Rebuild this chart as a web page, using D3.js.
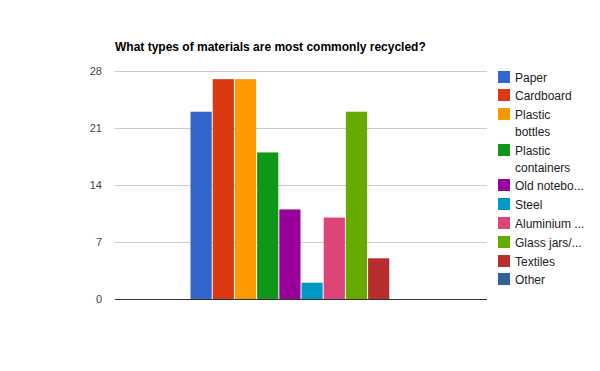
<!DOCTYPE html>
<html>
<head>
<meta charset="utf-8">
<script src="https://cdn.jsdelivr.net/npm/d3@7"></script>
<style>
  body { margin: 0; background: #fff; }
  text { font-family: "Liberation Sans", Arial, sans-serif; }
</style>
</head>
<body>
<div id="chart"></div>
<script>
// Data
var series = ["Paper", "Cardboard", "Plastic bottles", "Plastic containers", "Old notebo...",
  "Steel", "Aluminium ...", "Glass jars/...", "Textiles", "Other"];
var legendLines = [["Paper"], ["Cardboard"], ["Plastic", "bottles"], ["Plastic", "containers"],
  ["Old notebo..."], ["Steel"], ["Aluminium ..."], ["Glass jars/..."], ["Textiles"], ["Other"]];
var values = [23, 27, 27, 18, 11, 2, 10, 23, 5, 0];
var colors = ["#3366cc", "#dc3912", "#ff9900", "#109618", "#990099",
  "#0099c6", "#dd4477", "#66aa00", "#b82e2e", "#316395"];
var yTicks = [0, 7, 14, 21, 28];

var svgWidth = 600, svgHeight = 371;
var margin = { top: 71, right: 113, bottom: 72, left: 115 };
var chartWidth = svgWidth - margin.left - margin.right;
var chartHeight = svgHeight - margin.top - margin.bottom;

var svg = d3.select("#chart").append("svg")
  .attr("width", svgWidth)
  .attr("height", svgHeight);

svg.append("text")
  .attr("x", 115)
  .attr("y", 51)
  .style("font-size", "12px")
  .style("font-weight", "bold")
  .attr("fill", "#000")
  .text("What types of materials are most commonly recycled?");

var chart = svg.append("g")
  .attr("transform", "translate(" + margin.left + "," + margin.top + ")");

var y = d3.scaleLinear().domain([0, 28]).range([chartHeight, 0]);

// one category group centred in the plot
var x0 = d3.scaleBand().domain(["all"]).range([0, chartWidth]).paddingInner(0).paddingOuter(0.338);
var x1 = d3.scaleBand().domain(series).range([0, x0.bandwidth()]).paddingInner(0.045).paddingOuter(0.0225);

// gridlines
chart.selectAll(".grid")
  .data(yTicks.filter(function(d) { return d > 0; }))
  .enter().append("line")
  .attr("x1", 0).attr("x2", chartWidth)
  .attr("y1", function(d) { return Math.round(y(d)) + 0.5; })
  .attr("y2", function(d) { return Math.round(y(d)) + 0.5; })
  .attr("stroke", "#cccccc");

// y axis labels
var yAxis = chart.append("g")
  .call(d3.axisLeft(y).tickValues(yTicks).tickSize(0).tickPadding(13));
yAxis.select(".domain").remove();
yAxis.selectAll("text")
  .style("font-size", "11px")
  .style("font-family", "'Liberation Sans', Arial, sans-serif")
  .attr("fill", "#444");

// bars
chart.append("g")
  .attr("transform", "translate(" + x0("all") + ",0)")
  .selectAll("rect")
  .data(values)
  .enter().append("rect")
  .attr("x", function(d, i) { return x1(series[i]); })
  .attr("y", function(d) { return y(d); })
  .attr("width", x1.bandwidth())
  .attr("height", function(d) { return chartHeight - y(d); })
  .attr("fill", function(d, i) { return colors[i]; });

// baseline
chart.append("line")
  .attr("x1", 0).attr("x2", chartWidth)
  .attr("y1", chartHeight + 0.5).attr("y2", chartHeight + 0.5)
  .attr("stroke", "#333");

// legend
var legendY = [77, 95, 114, 150, 185, 204, 223, 242, 261, 279];
var legend = svg.append("g");
legendLines.forEach(function(lines, i) {
  var g = legend.append("g").attr("transform", "translate(498," + legendY[i] + ")");
  g.append("rect")
    .attr("x", 0).attr("y", -6)
    .attr("width", 12).attr("height", 12)
    .attr("fill", colors[i]);
  lines.forEach(function(t, j) {
    g.append("text")
      .attr("x", 17)
      .attr("y", j * 17 + 4.5)
      .style("font-size", "12px")
      .attr("fill", "#222")
      .text(t);
  });
});
</script>
</body>
</html>
